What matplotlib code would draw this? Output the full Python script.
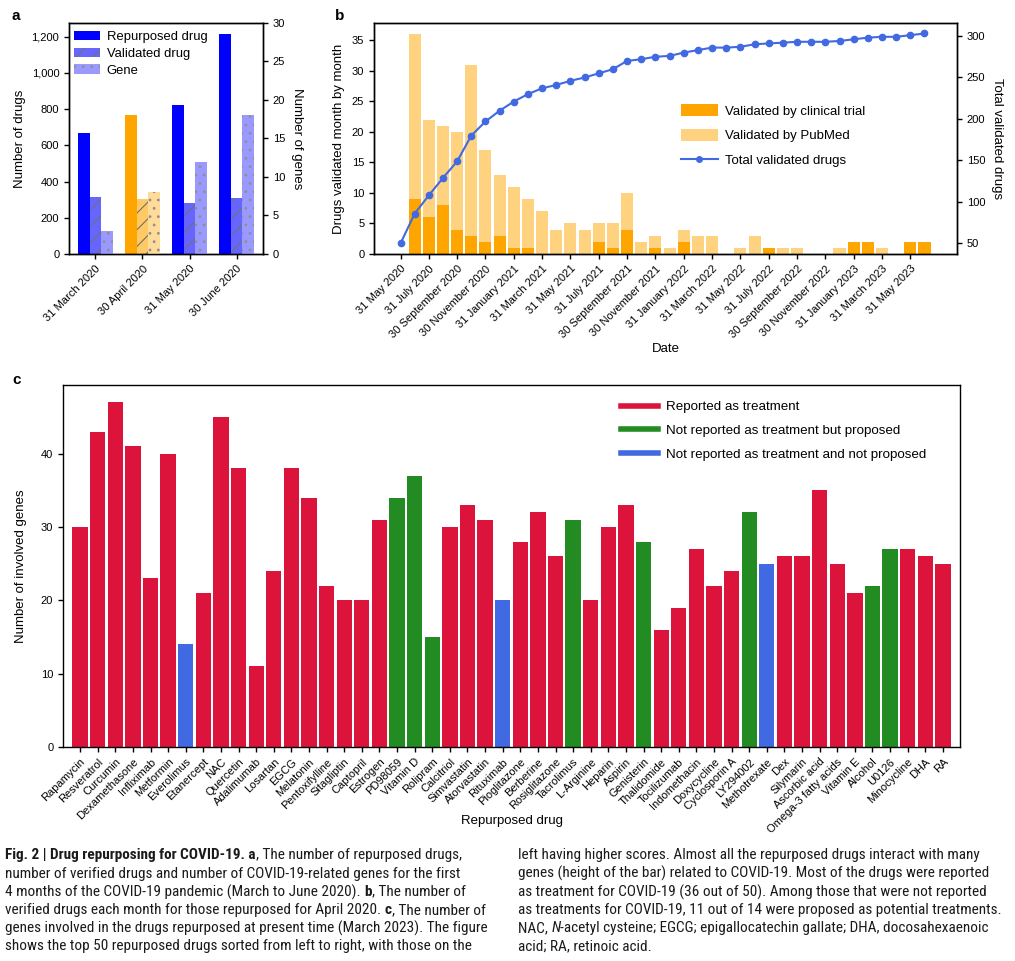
import matplotlib
matplotlib.use('Agg')
import matplotlib.pyplot as plt
from matplotlib import font_manager
from matplotlib.ticker import FuncFormatter
from matplotlib.patches import Patch
from matplotlib.lines import Line2D
from matplotlib.transforms import IdentityTransform
import numpy as np

# ---------------- Panel a data ----------------
a_dates = ["31 March 2020", "30 April 2020", "31 May 2020", "30 June 2020"]
a_repurposed = [666, 765, 825, 1215]
a_validated = [315, 304, 282, 309]
a_genes = [3, 8, 12, 18]
a_highlight = [False, True, False, False]

# ---------------- Panel b data (monthly, May 2020 .. June 2023) ----------------
b_tick_labels = ["31 May 2020", "31 July 2020", "30 September 2020", "30 November 2020",
                 "31 January 2021", "31 March 2021", "31 May 2021", "31 July 2021",
                 "30 September 2021", "30 November 2021", "31 January 2022", "31 March 2022",
                 "31 May 2022", "31 July 2022", "30 September 2022", "30 November 2022",
                 "31 January 2023", "31 March 2023", "31 May 2023"]
b_clinical = [0, 9, 6, 8, 4, 3, 2, 3, 1, 1, 0, 0, 0, 0, 2, 1, 4, 0, 1, 0, 2, 0, 0, 0, 0, 0,
              1, 0, 0, 0, 0, 0, 2, 2, 0, 0, 2, 2]
b_pubmed = [0, 27, 16, 13, 16, 28, 15, 10, 10, 8, 7, 4, 5, 4, 3, 4, 6, 2, 2, 1, 2, 3, 3, 0,
            1, 3, 0, 1, 1, 0, 0, 1, 0, 0, 1, 0, 0, 0]
b_total = [50, 86, 108, 129, 149, 180, 197, 210, 221, 230, 237, 241, 246, 250, 255, 260, 270,
           272, 275, 276, 280, 283, 286, 286, 287, 290, 291, 292, 293, 293, 293, 294, 296, 298,
           299, 299, 301, 303]

# ---------------- Panel c data ----------------
c_drugs = ["Rapamycin", "Resveratrol", "Curcumin", "Dexamethasone", "Infliximab", "Metformin",
           "Everolimus", "Etanercept", "NAC", "Quercetin", "Adalimumab", "Losartan", "EGCG",
           "Melatonin", "Pentoxifylline", "Sitagliptin", "Captopril", "Estrogen", "PD98059",
           "Vitamin D", "Rolipram", "Calcitriol", "Simvastatin", "Atorvastatin", "Rituximab",
           "Pioglitazone", "Berberine", "Rosiglitazone", "Tacrolimus", "L-Arginine", "Heparin",
           "Aspirin", "Genisterin", "Thalidomide", "Tocilizumab", "Indomethacin", "Doxycycline",
           "Cyclosporin A", "LY294002", "Methotrexate", "Dex", "Silymarin", "Ascorbic acid",
           "Omega-3 fatty acids", "Vitamin E", "Alcohol", "U0126", "Minocycline", "DHA", "RA"]
c_genes = [30, 43, 47, 41, 23, 40, 14, 21, 45, 38, 11, 24, 38, 34, 22, 20, 20, 31, 34, 37, 15,
           30, 33, 31, 20, 28, 32, 26, 31, 20, 30, 33, 28, 16, 19, 27, 22, 24, 32, 25, 26, 26,
           35, 25, 21, 22, 27, 27, 26, 25]
c_status = ["R", "R", "R", "R", "R", "R", "N", "R", "R", "R", "R", "R", "R", "R", "R", "R", "R",
            "R", "P", "P", "P", "R", "R", "R", "N", "R", "R", "R", "P", "R", "R", "R", "P", "R",
            "R", "R", "R", "R", "P", "N", "R", "R", "R", "R", "R", "P", "P", "R", "R", "R"]
c_status_labels = {"R": "Reported as treatment",
                   "P": "Not reported as treatment but proposed",
                   "N": "Not reported as treatment and not proposed"}

# ---------------- style ----------------
avail = {f.name for f in font_manager.fontManager.ttflist}
MAIN = 'Liberation Sans' if 'Liberation Sans' in avail else 'DejaVu Sans'
plt.rcParams['font.family'] = [MAIN, 'DejaVu Sans']
plt.rcParams['font.size'] = 8
plt.rcParams['axes.linewidth'] = 1.0
plt.rcParams['xtick.major.width'] = 1.0
plt.rcParams['ytick.major.width'] = 1.0
plt.rcParams['xtick.major.size'] = 3.5
plt.rcParams['ytick.major.size'] = 3.5
plt.rcParams['hatch.linewidth'] = 0.8

RED, GREEN, ROYAL = '#DC143C', '#228B22', '#4169E1'
ORANGE, LORANGE = '#FFA500', '#FFD27F'
STATUS_COL = {"R": RED, "P": GREEN, "N": ROYAL}

W, H = 1015, 961
fig = plt.figure(figsize=(W / 100, H / 100), dpi=100)


def axpx(l, t, r, b):
    return fig.add_axes([l / W, 1 - b / H, (r - l) / W, (b - t) / H])


def fpt(x, y):
    return (x / W, 1 - y / H)

# ================= Panel a =================
axA = axpx(69, 23, 263, 254)
axA2 = axA.twinx()
xa = np.arange(len(a_dates))
wa = 0.25
rep_c = [ORANGE if h else '#0000FF' for h in a_highlight]
val_c = ['#FFC966' if h else '#6666FF' for h in a_highlight]
gen_c = ['#FFDB99' if h else '#9999FF' for h in a_highlight]
axA.bar(xa - wa, a_repurposed, wa, color=rep_c, linewidth=0)
axA.bar(xa, a_validated, wa, color=val_c, hatch='//', edgecolor='#707070', linewidth=0)
axA2.bar(xa + wa, a_genes, wa, color=gen_c, hatch='..', edgecolor='#909090', linewidth=0)
axA2.set_ylim(0, 30)
axA.set_xlim(xa[0] - 1.5 * wa - 0.1875, xa[-1] + 1.5 * wa + 0.1875)
axA.set_yticks([0, 200, 400, 600, 800, 1000, 1200])
axA.yaxis.set_major_formatter(FuncFormatter(lambda v, p: f'{int(v):,}'))
axA2.set_yticks([0, 5, 10, 15, 20, 25, 30])
axA.set_xticks(xa)
axA.set_xticklabels(a_dates, rotation=45, ha='right', rotation_mode='anchor')
axA.set_ylabel('Number of drugs', fontsize=9.5, labelpad=4)
axA2.set_ylabel('Number of genes', fontsize=9.5, rotation=270, labelpad=13)
hA = [Patch(facecolor='#0000FF', linewidth=0),
      Patch(facecolor='#6666FF', hatch='//', edgecolor='#707070', linewidth=0),
      Patch(facecolor='#9999FF', hatch='..', edgecolor='#909090', linewidth=0)]
axA2.legend(hA, ['Repurposed drug', 'Validated drug', 'Gene'], loc='upper left',
            bbox_to_anchor=fpt(74, 31), bbox_transform=fig.transFigure, frameon=False,
            fontsize=9.4, borderpad=0, borderaxespad=0, handlelength=2.0, handletextpad=0.5,
            labelspacing=0.35)
fig.text(*fpt(12, 16), 'a', fontsize=11, fontweight='bold', va='center')

# ================= Panel b =================
axB = axpx(374, 23, 957, 254)
axB2 = axB.twinx()
months = np.arange(len(b_total))
wb = 0.85
axB.bar(months[1:], b_clinical[1:], wb, color=ORANGE, linewidth=0)
axB.bar(months[1:], b_pubmed[1:], wb, bottom=b_clinical[1:], color=LORANGE, linewidth=0)
axB2.plot(months, b_total, '-o', color=ROYAL, ms=4.5, lw=1.5)
axB.set_xticks(months[::2][:len(b_tick_labels)])
axB.set_xticklabels(b_tick_labels, rotation=45, ha='right', rotation_mode='anchor')
axB.set_yticks([0, 5, 10, 15, 20, 25, 30, 35])
axB2.set_yticks([50, 100, 150, 200, 250, 300])
axB.set_ylabel('Drugs validated month by month', fontsize=9.5, labelpad=5)
axB2.set_ylabel('Total validated drugs', fontsize=9.5, rotation=270, labelpad=13)
axB.set_xlabel('Date', fontsize=9.5)
axB.xaxis.set_label_coords(0.5, -(343 - 254) / (254 - 23))
hB = [Patch(facecolor=ORANGE), Patch(facecolor=LORANGE),
      Line2D([], [], color=ROYAL, marker='o', ms=4, lw=1.5)]
axB2.legend(hB, ['Validated by clinical trial', 'Validated by PubMed', 'Total validated drugs'],
            loc='upper left', bbox_to_anchor=fpt(681, 104), bbox_transform=fig.transFigure,
            frameon=False, fontsize=9.5, borderpad=0, borderaxespad=0, handlelength=2.8,
            handleheight=1.05, handletextpad=0.55, labelspacing=0.85)
fig.text(*fpt(335, 16), 'b', fontsize=11, fontweight='bold', va='center')

# ================= Panel c =================
axC = axpx(63, 385, 960, 747)
xc = np.arange(len(c_drugs))
axC.bar(xc, c_genes, 0.87, color=[STATUS_COL[s] for s in c_status], linewidth=0)
axC.set_xlim(-0.97, len(c_drugs) - 1 + 0.97)
axC.set_yticks([0, 10, 20, 30, 40])
axC.set_xticks(xc)
axC.set_xticklabels(c_drugs, rotation=45, ha='right', rotation_mode='anchor')
axC.set_ylabel('Number of involved genes', fontsize=9.5, labelpad=10)
axC.set_xlabel('Repurposed drug', fontsize=9.5)
axC.xaxis.set_label_coords(0.5, -(815 - 747) / (747 - 385))
hC = [Line2D([], [], color=STATUS_COL[k], lw=4) for k in ["R", "P", "N"]]
axC.legend(hC, [c_status_labels[k] for k in ["R", "P", "N"]], loc='upper left',
           bbox_to_anchor=fpt(621, 401), bbox_transform=fig.transFigure, frameon=False,
           fontsize=9.6, borderpad=0, borderaxespad=0, handlelength=2.8, handletextpad=0.6,
           labelspacing=0.85)
fig.text(*fpt(12, 380), 'c', fontsize=11, fontweight='bold', va='center')

# ================= Caption =================
cap_left = [
    [("Fig. 2 | Drug repurposing for COVID-19. a", 'bold', 'normal'),
     (", The number of repurposed drugs,", 'normal', 'normal')],
    [("number of verified drugs and number of COVID-19-related genes for the first", 'normal', 'normal')],
    [("4 months of the COVID-19 pandemic (March to June 2020). ", 'normal', 'normal'),
     ("b", 'bold', 'normal'), (", The number of", 'normal', 'normal')],
    [("verified drugs each month for those repurposed for April 2020. ", 'normal', 'normal'),
     ("c", 'bold', 'normal'), (", The number of", 'normal', 'normal')],
    [("genes involved in the drugs repurposed at present time (March 2023). The figure", 'normal', 'normal')],
    [("shows the top 50 repurposed drugs sorted from left to right, with those on the", 'normal', 'normal')],
]
cap_right = [
    [("left having higher scores. Almost all the repurposed drugs interact with many", 'normal', 'normal')],
    [("genes (height of the bar) related to COVID-19. Most of the drugs were reported", 'normal', 'normal')],
    [("as treatment for COVID-19 (36 out of 50). Among those that were not reported", 'normal', 'normal')],
    [("as treatments for COVID-19, 11 out of 14 were proposed as potential treatments.", 'normal', 'normal')],
    [("NAC, ", 'normal', 'normal'), ("N", 'normal', 'italic'),
     ("-acetyl cysteine; EGCG; epigallocatechin gallate; DHA, docosahexaenoic", 'normal', 'normal')],
    [("acid; RA, retinoic acid.", 'normal', 'normal')],
]

cap_fam = MAIN
for cand in ['Liberation Sans Narrow', 'Roboto Condensed', 'Open Sans Condensed']:
    if cand in avail:
        cap_fam = cand
        break

renderer = fig.canvas.get_renderer()


def run_width(txt, size, weight, style):
    t1 = fig.text(0, 0, txt + '|', fontsize=size, fontweight=weight, style=style,
                  family=cap_fam, transform=IdentityTransform())
    t2 = fig.text(0, 0, '|', fontsize=size, fontweight=weight, style=style,
                  family=cap_fam, transform=IdentityTransform())
    w = t1.get_window_extent(renderer).width - t2.get_window_extent(renderer).width
    t1.remove()
    t2.remove()
    return w


def line_width(runs, size):
    return sum(run_width(t, size, wgt, st) for t, wgt, st in runs)


def fit_size(lines, target, base=10.0, cap=11.5):
    mx = max(line_width(r, base) for r in lines)
    return min(cap, base * target / mx)


def draw_caption(lines, x0, y0, dy, size):
    for i, runs in enumerate(lines):
        x = x0
        y = H - (y0 + i * dy)
        for t, wgt, st in runs:
            fig.text(x, y, t, fontsize=size, fontweight=wgt, style=st, family=cap_fam,
                     transform=IdentityTransform(), va='center_baseline', ha='left',
                     color='#1a1a1a')
            x += run_width(t, size, wgt, st)


sL = fit_size(cap_left, 486)
sR = fit_size(cap_right, 482)
s = min(sL, sR)
draw_caption(cap_left, 5, 854, 18.1, s)
draw_caption(cap_right, 518, 854, 18.1, s)

fig.savefig('out.png', dpi=100)
